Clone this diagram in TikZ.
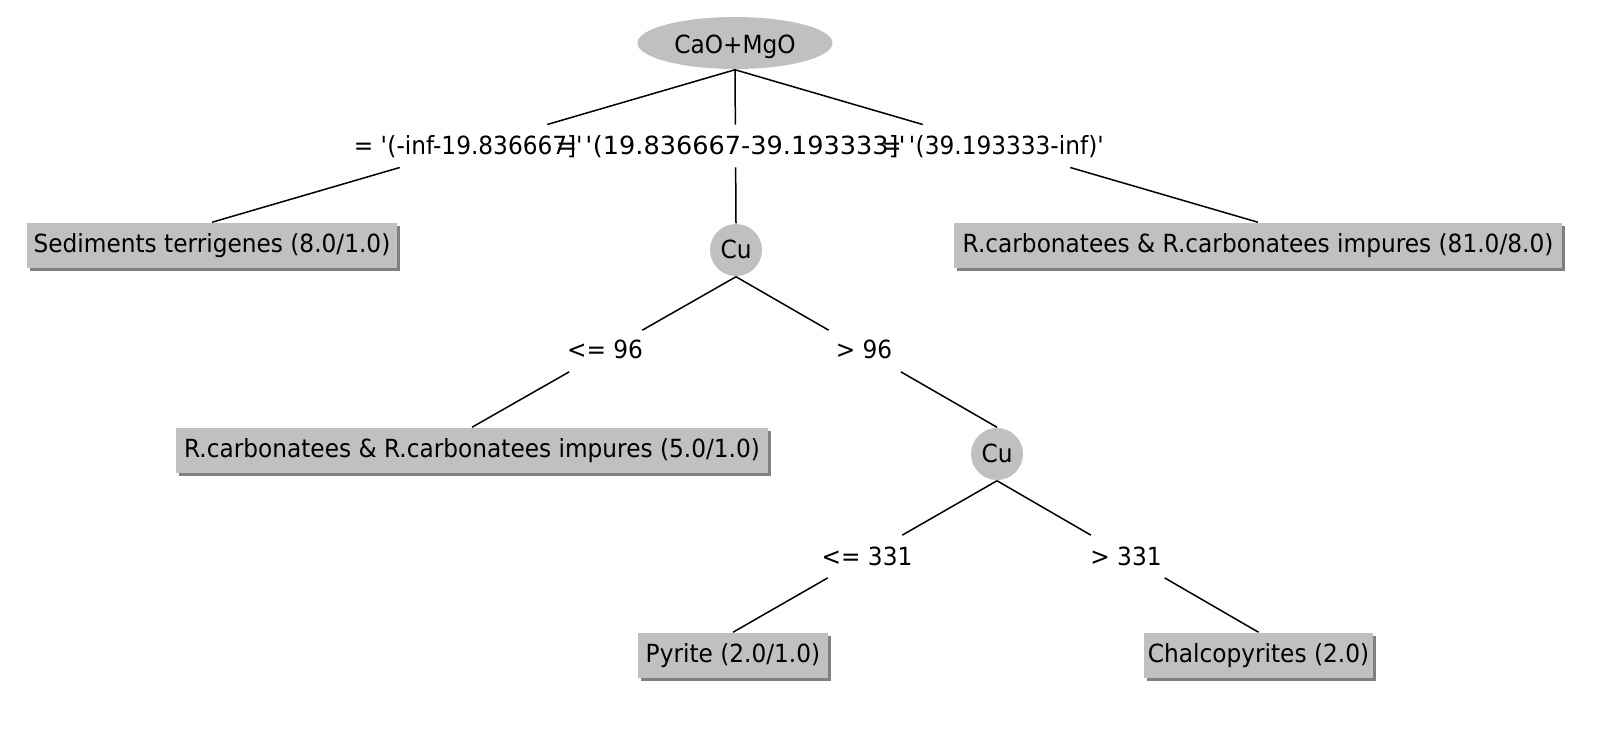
\documentclass[tikz,border=0pt]{standalone}
\usepackage{graphicx}
\usepackage{fontspec}
\setmainfont{DejaVu Sans}[FakeStretch=0.93]
\usetikzlibrary{calc,shapes.geometric,shadows}
\definecolor{nodegray}{HTML}{C0C0C0}
\definecolor{shadowgray}{HTML}{808080}
\newcommand{\q}{\textquotesingle}
\begin{document}
\begin{tikzpicture}[x=1pt,y=-1pt,line width=1.5pt,
  every node/.style={font=\fontsize{25}{30}\selectfont,inner sep=0pt,text=black},
  splitnode/.style={ellipse,fill=nodegray,minimum width=195pt,minimum height=52pt,text height=20pt,text depth=0pt},
  cunode/.style={circle,fill=nodegray,minimum size=52pt,text height=17pt,text depth=0pt},
  leafbox/.style={rectangle,fill=nodegray,minimum height=45pt,text height=29pt,text depth=16pt,
     general shadow={shadow xshift=3pt,shadow yshift=-3pt,fill=shadowgray}},
  elabel/.style={anchor=base}]
\useasboundingbox (0,0) rectangle (1598,734);

% nodes
\node[splitnode] (root) at (735,43) {CaO+MgO};
\node[cunode] (cu1) at (736,250) {Cu};
\node[cunode] (cu2) at (997,454) {Cu};
\node[leafbox,minimum width=370pt] (sed) at (212,245.5) {Sediments terrigenes (8.0/1.0)};
\node[leafbox,minimum width=608pt] (rc81) at (1258,245.5) {R.carbonatees \& R.carbonatees impures (81.0/8.0)};
\node[leafbox,minimum width=592pt] (rc5) at (472,450.5) {R.carbonatees \& R.carbonatees impures (5.0/1.0)};
\node[leafbox,minimum width=190pt] (pyr) at (733,655.5) {Pyrite (2.0/1.0)};
\node[leafbox,minimum width=229pt] (chal) at (1258.5,655.5) {Chalcopyrites (2.0)};

% edge labels
\node[elabel,anchor=base west] (l1) at (353,154) {= \q(-inf-19.836667]\q};
\node[elabel] (l2) at (731,154) {\scalebox{1.1}[1]{= \q(19.836667-39.193333]\q}};
\node[elabel,anchor=base east] (l3) at (1105,154) {= \q(39.193333-inf)\q};
\node[elabel] (le96) at (605,358) {<= 96};
\node[elabel] (gt96) at (864,358) {> 96};
\node[elabel] (le331) at (867,565) {<= 331};
\node[elabel] (gt331) at (1126,565) {> 331};

% edges, broken around their labels
\coordinate (a1) at ($(root.south)!0.359!(sed.north)$);
\coordinate (b1) at ($(root.south)!0.641!(sed.north)$);
\coordinate (a2) at ($(root.south)!0.357!(cu1.north)$);
\coordinate (b2) at ($(root.south)!0.636!(cu1.north)$);
\coordinate (a3) at ($(root.south)!0.359!(rc81.north)$);
\coordinate (b3) at ($(root.south)!0.641!(rc81.north)$);
\coordinate (a4) at ($(cu1.south)!0.355!(rc5.north)$);
\coordinate (b4) at ($(cu1.south)!0.632!(rc5.north)$);
\coordinate (a5) at ($(cu1.south)!0.355!(cu2.north)$);
\coordinate (b5) at ($(cu1.south)!0.632!(cu2.north)$);
\coordinate (a6) at ($(cu2.south)!0.359!(pyr.north)$);
\coordinate (b6) at ($(cu2.south)!0.641!(pyr.north)$);
\coordinate (a7) at ($(cu2.south)!0.359!(chal.north)$);
\coordinate (b7) at ($(cu2.south)!0.641!(chal.north)$);

\draw (root.south) -- (a1); \draw (b1) -- (sed.north);
\draw (root.south) -- (a2); \draw (b2) -- (cu1.north);
\draw (root.south) -- (a3); \draw (b3) -- (rc81.north);
\draw (cu1.south) -- (a4); \draw (b4) -- (rc5.north);
\draw (cu1.south) -- (a5); \draw (b5) -- (cu2.north);
\draw (cu2.south) -- (a6); \draw (b6) -- (pyr.north);
\draw (cu2.south) -- (a7); \draw (b7) -- (chal.north);
\end{tikzpicture}
\end{document}
